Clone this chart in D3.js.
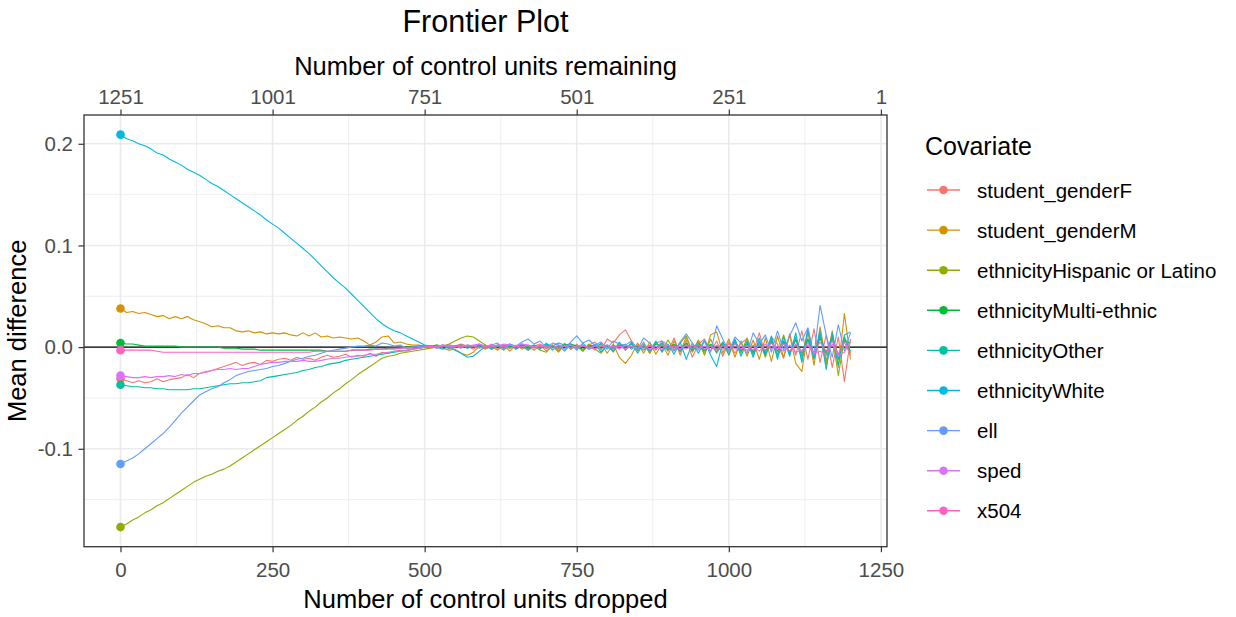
<!DOCTYPE html>
<html>
<head>
<meta charset="utf-8">
<script src="https://cdn.jsdelivr.net/npm/d3@7"></script>
<style>
  body { margin: 0; background: #fff; }
  svg { font-family: "Liberation Sans", Arial, sans-serif; }
</style>
</head>
<body>
<svg id="chart" width="1236" height="617"></svg>
<script>
// ---- data ----
const totalControl = 1251;

const dropped = [0,10,20,30,40,50,60,70,80,90,100,110,120,130,140,150,160,170,180,190,
  200,210,220,230,240,250,260,270,280,290,300,310,320,330,340,350,360,370,380,390,
  400,410,420,430,440,450,460,470,480,490,500,510,520,530,540,550,560,570,580,590,
  600,610,620,630,640,650,660,670,680,690,700,710,720,730,740,750,760,770,780,790,
  800,810,820,830,840,850,860,870,880,890,900,910,920,930,940,950,960,970,980,990,
  1000,1010,1020,1030,1040,1050,1060,1070,1080,1090,1100,1110,1120,1130,1140,1150,1160,1170,1180,1190,1200];

const covariates = ["student_genderF", "student_genderM", "ethnicityHispanic or Latino",
  "ethnicityMulti-ethnic", "ethnicityOther", "ethnicityWhite", "ell", "sped", "x504"];

const colors = ["#F8766D", "#D39200", "#93AA00", "#00BA38", "#00C19F",
  "#00B9E3", "#619CFF", "#DB72FB", "#FF61C3"];

const studentGenderF = [-.031,-.033,-.035,-.033,-.035,-.034,-.031,-.034,-.032,-.031,
  -.030,-.027,-.030,-.026,-.024,-.023,-.021,-.019,-.017,-.015,
  -.018,-.016,-.015,-.017,-.013,-.014,-.012,-.011,-.013,-.010,
  -.012,-.011,-.013,-.010,-.008,-.010,-.009,-.007,-.010,-.008,
  -.009,-.006,-.009,-.005,-.006,-.004,-.003,-.004,-.002,-.001,
  0,
  .001,-.001,.002,-.002,.001,.003,.001,-.002,.002,-.001,
  .003,-.002,.001,.003,-.002,.002,-.003,.001,.003,-.002,
  .002,-.003,.004,-.002,.003,-.004,.002,.005,-.003,.008,
  .004,.012,.017,.006,-.003,.005,-.006,.004,.006,-.004,
  .009,-.008,.007,-.010,.003,.008,-.004,.006,-.009,.005,
  -.006,.004,.008,-.005,.014,-.007,.010,.003,-.011,.013,
  -.008,.016,-.012,.018,-.015,.012,-.020,.010,-.034,.008];

const studentGenderM = [.038,.034,.035,.033,.034,.032,.030,.031,.028,.030,
  .028,.030,.027,.025,.023,.020,.021,.019,.019,.016,
  .015,.016,.014,.015,.013,.014,.013,.014,.012,.011,
  .014,.011,.014,.010,.011,.009,.010,.009,.008,.009,
  .006,.002,.005,.010,.011,.004,.005,.003,.002,.002,
  .001,
  0,.002,-.001,-.003,-.002,-.006,-.008,-.005,.001,-.002,
  .001,-.003,.002,-.004,.002,-.002,.001,-.003,.002,-.004,
  .001,-.005,.003,-.002,.002,-.004,.003,-.003,.004,-.006,
  .003,-.010,-.016,-.008,.004,-.006,.005,-.007,.003,-.008,
  .006,-.005,.010,-.004,.007,-.008,.012,.015,-.006,.008,
  -.010,.006,-.009,.007,-.012,.009,-.014,.011,-.010,.012,
  -.016,-.024,.015,-.018,.020,-.014,.016,-.020,.033,-.012];

const ethnicityHispanic = [-.177,-.174,-.170,-.167,-.163,-.160,-.156,-.153,-.149,-.145,
  -.141,-.137,-.133,-.130,-.127,-.125,-.122,-.120,-.117,-.113,
  -.109,-.105,-.101,-.097,-.093,-.089,-.085,-.081,-.077,-.072,
  -.068,-.063,-.059,-.054,-.050,-.045,-.041,-.036,-.032,-.027,
  -.023,-.019,-.015,-.011,-.009,-.008,-.006,-.005,-.004,-.003,
  -.002,
  -.001,0,.001,.003,.006,.009,.011,.010,.006,.002,
  -.002,.001,-.003,.002,-.001,.003,-.002,.001,-.003,-.005,
  .002,-.004,.003,-.002,.001,-.004,.003,-.002,-.006,.002,
  -.005,.004,-.003,.005,-.004,.003,-.006,.005,-.004,.007,
  -.003,.004,.011,-.005,.006,-.007,.008,-.006,.005,-.008,
  .007,-.006,.009,-.008,.006,-.010,.008,-.009,.012,-.007,
  .010,-.013,.017,-.011,.013,-.018,.012,-.028,.009,-.006];

const ethnicityMulti = [.004,.003,.003,.002,.001,.001,.001,.001,.001,.001,
  0,0,0,0,0,0,0,-.001,-.001,-.001,
  -.002,-.002,-.002,-.003,-.003,-.003,-.003,-.003,-.003,-.003,
  -.003,-.003,-.003,-.003,-.004,-.004,-.004,-.004,-.003,-.003,
  -.003,-.002,-.002,-.002,-.001,-.001,-.001,0,0,.001,
  .001,
  .001,.002,.001,.002,.001,.002,.001,0,.002,.001,
  0,.002,-.001,.001,0,.002,-.001,.001,0,.002,
  .001,-.001,.002,.003,.001,-.002,.001,.002,-.001,.001,
  -.002,.002,-.001,.003,-.002,.002,-.003,.003,.001,-.002,
  .003,-.002,.004,-.003,.002,-.004,.003,-.002,.004,-.003,
  .005,-.004,.003,-.005,.004,-.006,.005,-.004,.006,-.005,
  .007,-.006,.008,-.007,.009,-.006,.010,-.008,.006,.004];

const ethnicityOther = [-.037,-.038,-.039,-.039,-.040,-.040,-.041,-.041,-.042,-.042,
  -.042,-.042,-.041,-.041,-.040,-.039,-.038,-.037,-.036,-.036,
  -.035,-.035,-.034,-.033,-.030,-.029,-.028,-.027,-.026,-.025,
  -.023,-.022,-.020,-.019,-.017,-.016,-.015,-.013,-.012,-.011,
  -.010,-.009,-.008,-.007,-.006,-.005,-.004,-.003,-.002,-.001,
  0,
  .001,0,.002,-.001,.001,.002,-.001,.001,0,.002,
  -.001,.001,.002,-.001,.001,.003,0,.002,-.001,.003,
  .001,.004,.002,.003,-.001,.002,-.002,.001,.003,-.002,
  .002,-.001,.003,-.002,.002,-.003,.002,-.002,.004,-.003,
  .002,-.004,.003,-.002,.004,-.003,.002,-.005,.003,-.004,
  .005,-.003,.004,-.006,.005,-.004,.006,-.007,.005,-.006,
  .008,-.009,.007,-.010,.011,-.008,.009,-.012,.010,-.004];

const ethnicityWhite = [.209,.205,.203,.200,.198,.195,.191,.189,.185,.182,
  .179,.175,.172,.169,.165,.161,.158,.154,.150,.146,
  .142,.138,.134,.130,.125,.121,.117,.112,.107,.102,
  .097,.092,.086,.080,.074,.068,.063,.058,.052,.046,
  .040,.034,.028,.023,.019,.016,.014,.011,.008,.005,
  .002,
  .001,0,-.002,.001,-.003,-.006,-.010,-.009,-.004,.001,
  -.002,.002,-.001,.003,-.002,.001,-.003,.002,-.002,.004,
  -.003,.002,-.004,.003,-.003,.004,-.002,.003,-.005,.002,
  -.004,.005,-.003,.004,-.006,.003,-.004,.006,-.005,.003,
  -.007,.005,-.012,.004,-.006,.006,-.008,-.019,.005,-.007,
  .008,-.009,.006,-.010,.009,-.008,.011,-.012,.010,-.009,
  .014,-.015,.018,-.012,.016,-.022,.014,-.018,.012,.015];

const ell = [-.115,-.112,-.109,-.105,-.100,-.095,-.090,-.085,-.079,-.072,
  -.065,-.059,-.053,-.047,-.044,-.041,-.039,-.035,-.032,-.028,
  -.026,-.024,-.023,-.022,-.021,-.019,-.018,-.016,-.014,-.012,
  -.011,-.009,-.008,-.006,-.004,-.003,-.002,-.001,0,.001,
  .001,.002,.001,.004,.003,.001,.002,-.001,0,.001,
  0,
  .001,-.001,.002,0,.001,-.001,.002,.001,.003,-.001,
  .002,.004,-.002,.003,.001,.005,.008,.003,.006,-.001,
  .004,.002,-.002,.005,.011,.004,.007,.002,.005,-.001,
  .006,.003,.002,.006,-.002,.009,.004,-.003,.006,.002,
  -.004,.005,.013,.004,-.003,.007,-.005,.021,.008,-.004,
  .010,.004,-.006,.014,.003,.012,-.005,.016,-.003,.011,
  .024,.006,.019,-.008,.041,.012,-.010,.022,-.004,.014];

const sped = [-.028,-.029,-.030,-.030,-.029,-.030,-.029,-.029,-.028,-.029,
  -.027,-.028,-.026,-.026,-.025,-.023,-.022,-.022,-.021,-.022,
  -.021,-.021,-.019,-.017,-.016,-.015,-.015,-.014,-.014,-.014,
  -.013,-.014,-.014,-.013,-.012,-.011,-.011,-.010,-.009,-.009,
  -.008,-.007,-.007,-.006,-.005,-.004,-.004,-.003,-.002,-.001,
  0,
  0,.001,.002,.001,0,.002,.001,.002,.003,.001,
  .002,.001,.003,.002,.001,.003,.002,0,.002,.001,
  -.001,.002,.001,-.001,.001,.002,-.001,.001,.002,-.001,
  .001,-.002,.002,0,-.001,.002,-.002,.001,-.002,.002,
  -.001,.001,-.002,.002,-.001,.001,-.003,.002,-.002,.003,
  -.002,.001,-.003,.002,-.004,.003,-.002,.001,-.004,.002,
  -.005,-.003,.002,-.006,-.004,-.007,.003,-.008,-.005,.006];

const x504 = [-.003,-.003,-.003,-.003,-.003,-.003,-.004,-.005,-.005,-.005,
  -.005,-.005,-.005,-.005,-.005,-.005,-.005,-.005,-.005,-.005,
  -.005,-.005,-.005,-.005,-.005,-.005,-.005,-.005,-.005,-.005,
  -.005,-.005,-.004,-.004,-.004,-.004,-.004,-.004,-.003,-.003,
  -.003,-.003,-.002,-.002,-.002,-.002,-.001,-.001,-.001,-.001,
  0,
  .001,0,.001,.002,.001,0,.002,.001,-.001,.001,
  0,.002,.001,-.001,.001,0,.002,-.001,.001,0,
  .002,-.001,.001,.002,-.001,.001,0,-.002,.001,.002,
  -.001,.001,-.002,.001,.002,-.001,.001,-.002,.002,-.001,
  .001,-.002,.002,-.001,.002,-.002,.001,-.003,.002,-.002,
  .003,-.002,.001,-.003,.002,-.003,.004,-.002,.003,-.004,
  .003,-.005,.004,-.006,.005,-.004,.006,-.007,.005,-.008];

const seriesValues = [studentGenderF, studentGenderM, ethnicityHispanic, ethnicityMulti,
  ethnicityOther, ethnicityWhite, ell, sped, x504];

const xTicks = [0, 250, 500, 750, 1000, 1250];
const xMinorTicks = [125, 375, 625, 875, 1125];
const remainingTicks = [1251, 1001, 751, 501, 251, 1];
const yTicks = [-0.1, 0.0, 0.1, 0.2];
const yMinorTicks = [-0.15, -0.05, 0.05, 0.15];

// ---- layout ----
const width = 1236, height = 617;
const margin = {top: 115, right: 349, bottom: 70.3, left: 84};
const panelW = width - margin.left - margin.right;
const panelH = height - margin.top - margin.bottom;

const tickColor = "#333333", labelColor = "#4D4D4D", gridColor = "#EBEBEB";

const svg = d3.select("#chart");
svg.append("rect").attr("width", width).attr("height", height).attr("fill", "#fff");

const lines = covariates.map((name, i) => ({
  name: name,
  color: colors[i],
  values: dropped.map((d, j) => ({x: d, y: seriesValues[i][j]}))
}));

// ggplot style 5% expansion on both scales
function expand(ext) {
  const pad = (ext[1] - ext[0]) * 0.05;
  return [ext[0] - pad, ext[1] + pad];
}
const xScale = d3.scaleLinear()
    .domain(expand(d3.extent(dropped)))
    .range([0, panelW]);
const yScale = d3.scaleLinear()
    .domain(expand([d3.min(seriesValues, s => d3.min(s)), d3.max(seriesValues, s => d3.max(s))]))
    .range([panelH, 0]);

const g = svg.append("g")
    .attr("transform", "translate(" + margin.left + "," + margin.top + ")");

// grid
const grid = g.append("g").attr("class", "grid");
grid.selectAll(".xminor").data(xMinorTicks).join("line")
    .attr("x1", d => xScale(d)).attr("x2", d => xScale(d))
    .attr("y1", 0).attr("y2", panelH)
    .attr("stroke", gridColor).attr("stroke-width", 0.8);
grid.selectAll(".yminor").data(yMinorTicks).join("line")
    .attr("y1", d => yScale(d)).attr("y2", d => yScale(d))
    .attr("x1", 0).attr("x2", panelW)
    .attr("stroke", gridColor).attr("stroke-width", 0.8);
grid.selectAll(".xmajor").data(xTicks).join("line")
    .attr("x1", d => xScale(d)).attr("x2", d => xScale(d))
    .attr("y1", 0).attr("y2", panelH)
    .attr("stroke", gridColor).attr("stroke-width", 1.6);
grid.selectAll(".ymajor").data(yTicks).join("line")
    .attr("y1", d => yScale(d)).attr("y2", d => yScale(d))
    .attr("x1", 0).attr("x2", panelW)
    .attr("stroke", gridColor).attr("stroke-width", 1.6);

// zero reference
g.append("line")
    .attr("x1", 0).attr("x2", panelW)
    .attr("y1", yScale(0)).attr("y2", yScale(0))
    .attr("stroke", "#000").attr("stroke-width", 1.4);

const line = d3.line().x(d => xScale(d.x)).y(d => yScale(d.y));

g.append("g").selectAll("path").data(lines).join("path")
    .attr("fill", "none")
    .attr("stroke", d => d.color)
    .attr("stroke-width", 1.1)
    .attr("stroke-linejoin", "round")
    .attr("d", d => line(d.values));

// starting points
g.append("g").selectAll("circle").data(lines).join("circle")
    .attr("cx", d => xScale(d.values[0].x))
    .attr("cy", d => yScale(d.values[0].y))
    .attr("r", 4.3)
    .attr("fill", d => d.color);

g.append("rect")
    .attr("width", panelW).attr("height", panelH)
    .attr("fill", "none").attr("stroke", tickColor).attr("stroke-width", 1.3);

// axes
function styleAxis(sel) {
  sel.select(".domain").remove();
  sel.selectAll(".tick line").attr("stroke", tickColor).attr("stroke-width", 1.2);
  sel.selectAll(".tick text").attr("fill", labelColor)
      .style("font-size", "20.5px").style("font-family", "Liberation Sans, Arial, sans-serif");
}

const xAxis = d3.axisBottom(xScale).tickValues(xTicks).tickFormat(d3.format("d"))
    .tickSize(5.5).tickPadding(10.5);
g.append("g").attr("transform", "translate(0," + panelH + ")").call(xAxis).call(styleAxis);

const xAxisTop = d3.axisTop(xScale)
    .tickValues(remainingTicks.map(r => totalControl - r))
    .tickFormat(d => totalControl - d)
    .tickSize(5.5).tickPadding(5.5);
g.append("g").call(xAxisTop).call(styleAxis);

// plain hyphen minus like R prints it
const yAxis = d3.axisLeft(yScale).tickValues(yTicks).tickFormat(d => d.toFixed(1))
    .tickSize(5.5).tickPadding(5.5);
g.append("g").call(yAxis).call(styleAxis);

// titles
const cx = margin.left + panelW / 2;
svg.append("text").attr("x", cx).attr("y", 31.5)
    .attr("text-anchor", "middle").style("font-size", "30.5px").attr("fill", "#000")
    .text("Frontier Plot");
svg.append("text").attr("x", cx).attr("y", 75)
    .attr("text-anchor", "middle").style("font-size", "25.5px").attr("fill", "#000")
    .text("Number of control units remaining");
svg.append("text").attr("x", cx).attr("y", 608)
    .attr("text-anchor", "middle").style("font-size", "25.5px").attr("fill", "#000")
    .text("Number of control units dropped");
svg.append("text")
    .attr("transform", "translate(25.5," + (margin.top + panelH / 2) + ") rotate(-90)")
    .attr("text-anchor", "middle").style("font-size", "25.5px").attr("fill", "#000")
    .text("Mean difference");

// legend
const legend = svg.append("g").attr("transform", "translate(925,0)");
legend.append("text").attr("x", 0).attr("y", 155)
    .style("font-size", "25px").attr("fill", "#000").text("Covariate");

const items = legend.selectAll(".item").data(lines).join("g")
    .attr("class", "item")
    .attr("transform", (d, i) => "translate(0," + (190 + i * 40.1) + ")");
items.append("line")
    .attr("x1", 2).attr("x2", 35).attr("y1", 0).attr("y2", 0)
    .attr("stroke", d => d.color).attr("stroke-width", 1.4);
items.append("circle")
    .attr("cx", 18.5).attr("cy", 0).attr("r", 4.3)
    .attr("fill", d => d.color);
items.append("text")
    .attr("x", 52).attr("y", 7.5)
    .style("font-size", "20.5px").attr("fill", "#000")
    .text(d => d.name);
</script>
</body>
</html>
